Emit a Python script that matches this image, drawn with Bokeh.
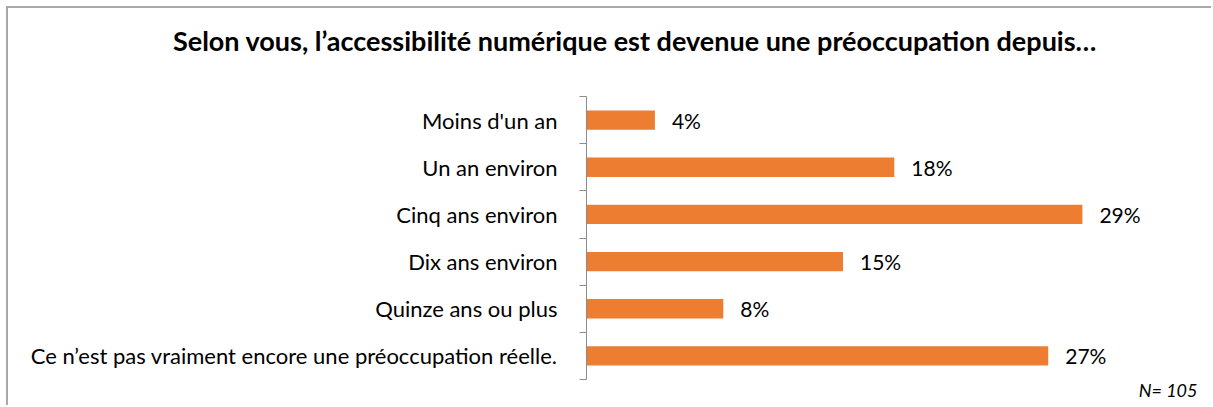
from bokeh.plotting import figure
from bokeh.models import Range1d, FixedTicker, ColumnDataSource
from bokeh.core.properties import value
from bokeh.embed import file_html
from bokeh.resources import INLINE

# ---- data ----
categories = [
    "Moins d'un an",
    "Un an environ",
    "Cinq ans environ",
    "Dix ans environ",
    "Quinze ans ou plus",
    "Ce n’est pas vraiment encore une préoccupation réelle.",
]
percentages = [4, 18, 29, 15, 8, 27]
value_labels = [f"{v}%" for v in percentages]
title_text = "Selon vous, l’accessibilité numérique est devenue une préoccupation depuis…"
sample_note = "N= 105"

# ---- layout constants (canvas pixels) ----
W, H = 1205, 399
AXIS_CX = 578           # canvas x of the category axis (value 0)
PX_PER_PCT = 17.1
PX_PER_CAT = 47.17
AXIS_TOP_CY = 88        # canvas y of top category boundary
n = len(categories)

x_start = -AXIS_CX / PX_PER_PCT
x_end = (W - AXIS_CX) / PX_PER_PCT
y_top = n + AXIS_TOP_CY / PX_PER_CAT
y_bot = y_top - H / PX_PER_CAT


def dx(cx):
    return (cx - AXIS_CX) / PX_PER_PCT


def dy(cy):
    return y_top - cy / PX_PER_CAT


centers = [n - 0.5 - i for i in range(n)]
src = ColumnDataSource(dict(cat=categories, pct=percentages, lab=value_labels, y=centers))

p = figure(
    width=W, height=H,
    x_range=Range1d(x_start, x_end), y_range=Range1d(y_bot, y_top),
    x_axis_location=None, y_axis_location="left",
    min_border_left=0, min_border_right=0, min_border_top=0, min_border_bottom=0,
    outline_line_color=None, background_fill_color="white", border_fill_color="white",
    output_backend="svg", toolbar_location=None,
)
p.styles = {"margin-left": "6px", "margin-top": "6px",
            "border-left": "2px solid #A9A9A9", "border-top": "2px solid #A9A9A9"}
p.xgrid.visible = False
p.ygrid.visible = False

p.hbar(y="y", left=0, right="pct", height=0.41, source=src,
       fill_color="#ED7D31", line_color=None)

p.text(x="pct", y="y", text="lab", source=src, x_offset=17,
       text_font=value("Lato"), text_font_size=value("21px"), text_color="#000000",
       text_align="left", text_baseline="middle")

ax = p.yaxis[0]
ax.fixed_location = 0
ax.ticker = FixedTicker(ticks=centers, minor_ticks=list(range(0, n + 1)))
ax.bounds = (0, n)
ax.major_label_overrides = {c: cat for c, cat in zip(centers, categories)}
ax.major_tick_line_color = None
ax.major_tick_out = 0
ax.major_tick_in = 0
ax.minor_tick_out = 7
ax.minor_tick_in = 0
ax.minor_tick_line_color = "#8C8C8C"
ax.axis_line_color = "#8C8C8C"
ax.major_label_standoff = 22
ax.major_label_text_font = "Lato"
ax.major_label_text_font_size = "22px"
ax.major_label_text_color = "#000000"

p.text(x=[dx(626.5)], y=[dy(32)], text=[title_text],
       text_font=value("Lato"), text_font_style="bold", text_font_size=value("27px"),
       text_color="#000000", text_align="center", text_baseline="middle")
p.text(x=[dx(1189)], y=[dy(381)], text=[sample_note],
       text_font=value("Lato"), text_font_style="italic", text_font_size=value("18px"),
       text_color="#000000", text_align="right", text_baseline="middle")

open("out.html", "w").write(file_html(p, INLINE))
